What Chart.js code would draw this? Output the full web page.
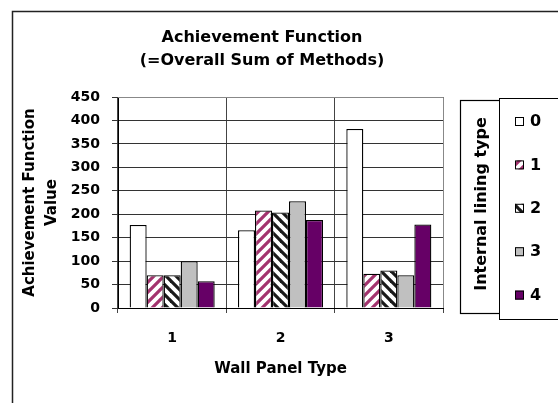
<!DOCTYPE html>
<html>
<head>
<meta charset="utf-8">
<script src="https://cdn.jsdelivr.net/npm/chart.js@4/dist/chart.umd.min.js"></script>
<style>
  html, body { margin: 0; padding: 0; background: #fff; }
  #wrap { width: 558px; height: 403px; position: relative; }
</style>
</head>
<body>
<div id="wrap"><canvas id="c" width="558" height="403"></canvas></div>
<script>
// Wall panel types on the x axis
const panelTypes = ['1', '2', '3'];
// Internal lining types (one series each)
const liningTypes = ['0', '1', '2', '3', '4'];
// Achievement function values per lining type, one value per panel type
const lining0 = [177, 166, 382];
const lining1 = [70, 208, 73];
const lining2 = [70, 204, 80];
const lining3 = [100, 228, 70];
const lining4 = [57, 188, 178];
// Y axis range and step
const yMin = 0, yMax = 450, yStep = 50;

const FONT = "'DejaVu Sans', 'Liberation Sans', Arial, sans-serif";
Chart.defaults.font.family = FONT;
Chart.defaults.color = '#000';

// Diagonal stripe fill: dir 1 = "/" stripes, dir -1 = "\" stripes
function stripes(color, dir) {
  const s = 10;
  const t = document.createElement('canvas');
  t.width = s; t.height = s;
  const g = t.getContext('2d');
  g.fillStyle = '#fff';
  g.fillRect(0, 0, s, s);
  g.strokeStyle = color;
  g.lineWidth = 3.2;
  g.lineCap = 'square';
  for (const o of [-s, 0, s]) {
    g.beginPath();
    if (dir > 0) { g.moveTo(o, s); g.lineTo(o + s, 0); }
    else { g.moveTo(o, 0); g.lineTo(o + s, s); }
    g.stroke();
  }
  return g.createPattern(t, 'repeat');
}

const ctx = document.getElementById('c').getContext('2d');
const fills = ['#ffffff', stripes('#a3336e', 1), stripes('#1a1a1a', -1), '#c0c0c0', '#660066'];
const seriesValues = [lining0, lining1, lining2, lining3, lining4];

// Outer frame, plot border and the boxed legend on the right
const decorations = {
  id: 'decorations',
  beforeDraw(chart) {
    const c = chart.ctx;
    c.save();
    c.fillStyle = '#fff';
    c.fillRect(0, 0, chart.width, chart.height);
    c.strokeStyle = '#222';
    c.lineWidth = 1.5;
    c.beginPath();
    c.moveTo(12.5, chart.height + 2);
    c.lineTo(12.5, 11.5);
    c.lineTo(chart.width + 2, 11.5);
    c.stroke();
    c.restore();
  },
  afterDraw(chart) {
    const c = chart.ctx;
    const a = chart.chartArea;
    c.save();
    // light top / right edge of the plot area
    c.strokeStyle = '#888';
    c.lineWidth = 1;
    c.beginPath();
    c.moveTo(a.left, Math.round(a.top) + 0.5);
    c.lineTo(Math.round(a.right) + 0.5, Math.round(a.top) + 0.5);
    c.lineTo(Math.round(a.right) + 0.5, a.bottom);
    c.stroke();

    // legend title box
    c.strokeStyle = '#000';
    c.lineWidth = 1.2;
    c.fillStyle = '#fff';
    c.fillRect(460.5, 100.5, 46, 213);
    c.strokeRect(460.5, 100.5, 46, 213);
    c.save();
    c.translate(482, 204);
    c.rotate(-Math.PI / 2);
    c.fillStyle = '#000';
    c.font = 'bold 16px ' + FONT;
    c.textAlign = 'center';
    c.textBaseline = 'middle';
    c.fillText('Internal lining type', 0, 0);
    c.restore();

    // legend key box (runs past the right edge)
    c.strokeStyle = '#000';
    c.lineWidth = 1;
    c.fillStyle = '#fff';
    c.fillRect(499.5, 98.5, 90, 221);
    c.strokeRect(499.5, 98.5, 90, 221);
    c.font = 'bold 16px ' + FONT;
    c.textAlign = 'left';
    c.textBaseline = 'middle';
    chart.data.datasets.forEach((ds, i) => {
      const y = 121.5 + i * 43.4;
      c.fillStyle = ds.backgroundColor;
      c.fillRect(515, y - 4.5, 9, 9);
      c.strokeStyle = '#000';
      c.lineWidth = 1;
      c.strokeRect(515.5, y - 4, 8, 8);
      c.fillStyle = '#000';
      c.fillText(ds.label, 530, y + 0.5);
    });
    c.restore();
  }
};

new Chart(ctx, {
  type: 'bar',
  data: {
    labels: panelTypes,
    datasets: liningTypes.map((name, i) => ({
      label: name,
      data: seriesValues[i],
      backgroundColor: fills[i],
      borderColor: '#000',
      borderWidth: 1.3,
      categoryPercentage: 0.785,
      barPercentage: 1.0
    }))
  },
  options: {
    responsive: false,
    animation: false,
    devicePixelRatio: 1,
    layout: { padding: { left: 12, right: 46, top: 11, bottom: 20 } },
    plugins: {
      legend: { display: false },
      tooltip: { enabled: false },
      title: {
        display: true,
        text: ['Achievement Function', '(=Overall Sum of Methods)'],
        color: '#000',
        font: { size: 16, weight: 'bold', lineHeight: 1.44 },
        padding: { top: 15, bottom: 25 }
      }
    },
    scales: {
      x: {
        grid: { display: true, offset: true, color: '#444', lineWidth: 1, tickLength: 5, drawOnChartArea: true },
        border: { display: true, color: '#000', width: 1 },
        ticks: { font: { size: 14, weight: 'bold' }, color: '#000', padding: 17, maxRotation: 0 },
        title: { display: true, text: 'Wall Panel Type', color: '#000', font: { size: 15, weight: 'bold' }, padding: { top: 0, bottom: 5 } },
        afterFit(s) { s.height = 75; }
      },
      y: {
        min: yMin, max: yMax,
        grid: { color: '#333', lineWidth: 1, tickLength: 6 },
        border: { display: true, color: '#000', width: 1 },
        ticks: { stepSize: yStep, font: { size: 14, weight: 'bold' }, color: '#000', padding: 12 },
        title: { display: true, text: ['Achievement Function', 'Value'], color: '#000', font: { size: 15, weight: 'bold', lineHeight: 1.45 }, padding: { top: 7, bottom: 0 } },
        afterFit(s) { s.width = 106; }
      },
      side: {
        type: 'linear',
        position: 'right',
        display: true,
        grid: { display: false },
        border: { display: false },
        ticks: { display: false },
        afterFit(s) { s.width = 69; }
      }
    }
  },
  plugins: [decorations]
});
</script>
</body>
</html>
